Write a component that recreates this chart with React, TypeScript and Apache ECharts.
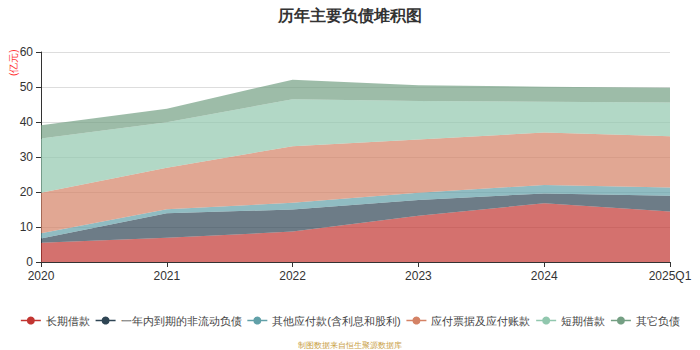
import React, { useEffect, useRef } from "react";
import * as echarts from "echarts";

const categories = ["2020", "2021", "2022", "2023", "2024", "2025Q1"];
const seriesNames = ["长期借款", "一年内到期的非流动负债", "其他应付款(含利息和股利)", "应付票据及应付账款", "短期借款", "其它负债"];
const longTermLoans = [5.5, 6.9, 8.7, 13.2, 16.8, 14.4];
const currentNonCurrent = [1.2, 7.0, 6.3, 4.5, 2.8, 4.5];
const otherPayables = [1.5, 1.2, 1.9, 2.1, 2.4, 2.4];
const notesAccountsPayable = [11.6, 11.8, 16.2, 15.2, 15.0, 14.6];
const shortTermLoans = [15.5, 13.0, 13.4, 11.0, 8.8, 9.7];
const otherLiabilities = [3.8, 3.9, 5.6, 4.5, 4.3, 4.2];
const colors = ["#c23531", "#2f4554", "#61a0a8", "#d48265", "#91c7ae", "#749f83"];

export default function App() {
  const ref = useRef<HTMLDivElement>(null);
  useEffect(() => {
    if (!ref.current) return;
    const chart = echarts.init(ref.current, undefined, { renderer: "svg" });
    const data = [longTermLoans, currentNonCurrent, otherPayables, notesAccountsPayable, shortTermLoans, otherLiabilities];
    chart.setOption({
      animation: false,
      color: colors,
      title: {
        text: "历年主要负债堆积图",
        left: "center",
        top: 2,
        textStyle: { fontSize: 16, fontWeight: "bold", color: "#333" },
      },
      grid: { left: 41, right: 30, top: 52, bottom: 88 },
      legend: {
        top: 310,
        left: "center",
        itemWidth: 20,
        itemHeight: 10,
        itemGap: 5,
        textStyle: { fontSize: 11, color: "#444" },
        lineStyle: { width: 1.5 },
        data: seriesNames,
      },
      graphic: [
        {
          type: "text",
          x: 8,
          y: 76,
          rotation: Math.PI / 2,
          style: { text: "(亿元)", fill: "#ff3333", fontSize: 10 },
        },
        {
          type: "text",
          left: "center",
          top: 341,
          style: { text: "制图数据来自恒生聚源数据库", fill: "#c9a043", fontSize: 8 },
        },
      ],
      xAxis: {
        type: "category",
        boundaryGap: false,
        data: categories,
        axisLine: { lineStyle: { color: "#333" } },
        axisTick: { show: true, alignWithLabel: true },
        axisLabel: { color: "#333", fontSize: 12 },
      },
      yAxis: {
        type: "value",
        min: 0,
        max: 60,
        interval: 10,
        axisLine: { show: true, lineStyle: { color: "#333" } },
        axisTick: { show: true },
        axisLabel: { color: "#333", fontSize: 12 },
        splitLine: { lineStyle: { color: "#ddd" } },
      },
      series: data.map((d, i) => ({
        name: seriesNames[i],
        type: "line",
        stack: "total",
        data: d,
        symbol: "circle",
        symbolSize: 8,
        showSymbol: false,
        lineStyle: { width: 0 },
        areaStyle: { opacity: 0.7 },
      })),
    });
    return () => chart.dispose();
  }, []);
  return <div ref={ref} style={{ width: 700, height: 350, position: "absolute", left: 0, top: 0 }} />;
}
